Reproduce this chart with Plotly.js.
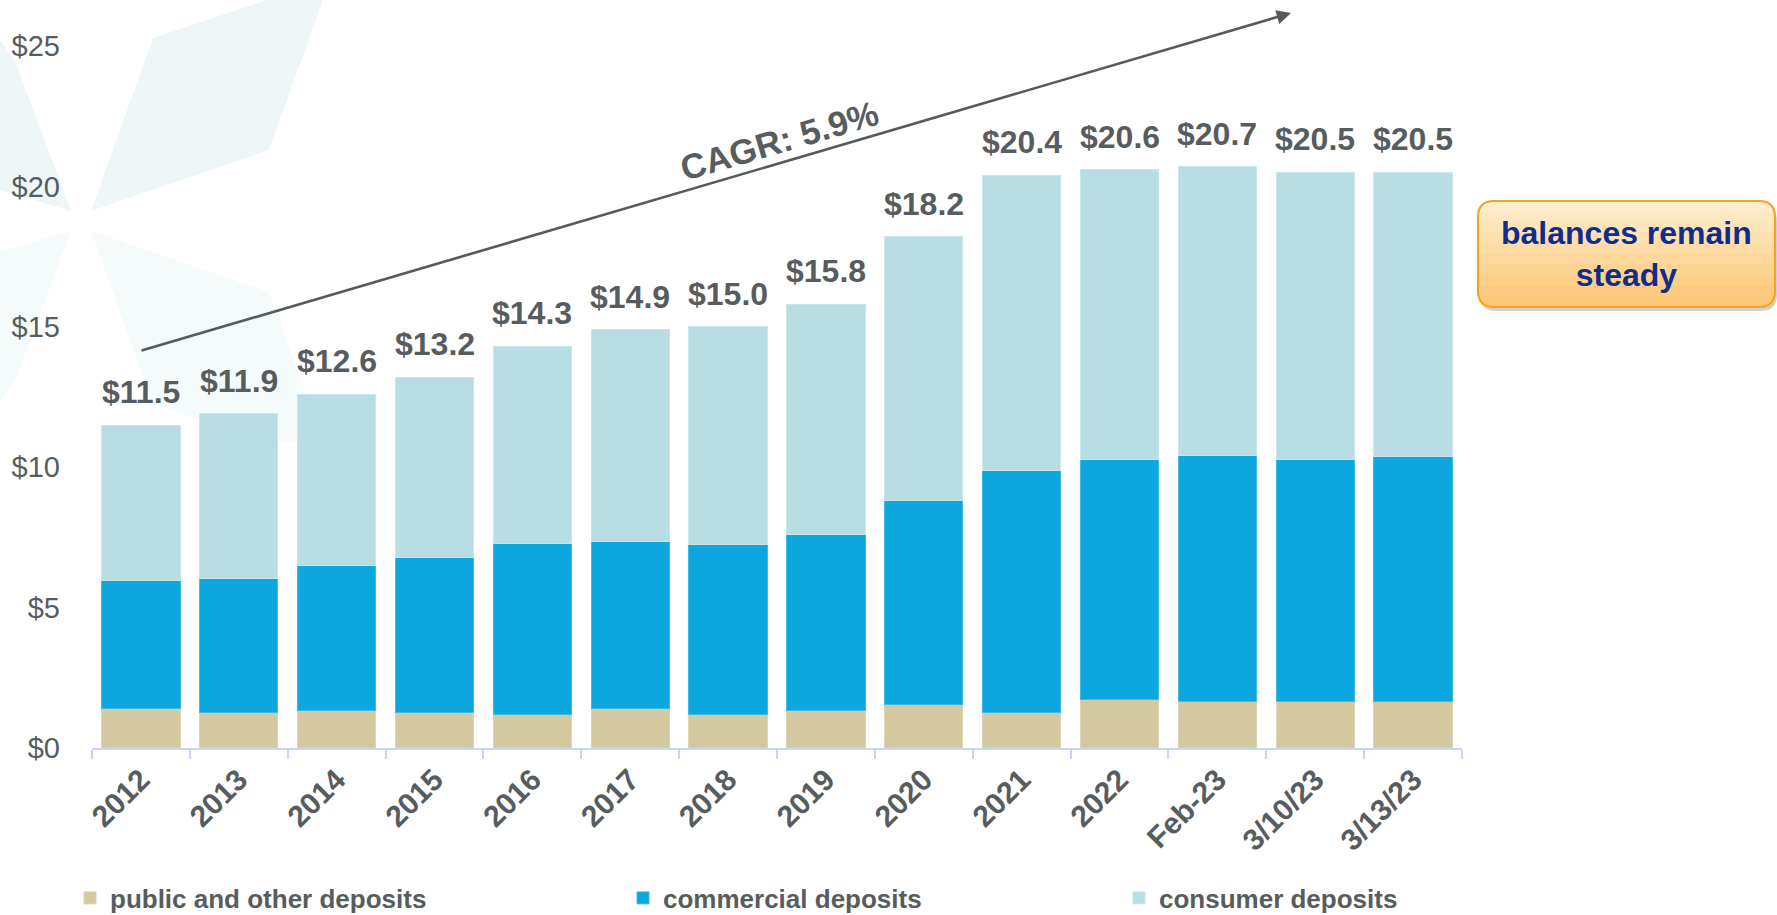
<!DOCTYPE html>
<html>
<head>
<meta charset="utf-8">
<script src="https://cdn.plot.ly/plotly-3.0.1.min.js"></script>
<style>
html,body{margin:0;padding:0;background:#fff;}
#chart{width:1777px;height:915px;}
</style>
</head>
<body>
<div id="chart"></div>
<script>
// ---- data (US$ billions) ----
const categories = ['2012','2013','2014','2015','2016','2017','2018','2019','2020','2021','2022','Feb-23','3/10/23','3/13/23'];
const publicDeposits = [1.39,1.26,1.35,1.28,1.19,1.41,1.19,1.32,1.54,1.26,1.72,1.67,1.66,1.67];
const commercialDeposits = [4.56,4.79,5.16,5.49,6.10,5.96,6.07,6.30,7.29,8.63,8.55,8.76,8.63,8.72];
const consumerDeposits = [5.55,5.85,6.09,6.43,7.01,7.53,7.74,8.18,9.37,10.51,10.33,10.27,10.21,10.11];
const totalLabels = [11.5,11.9,12.6,13.2,14.3,14.9,15.0,15.8,18.2,20.4,20.6,20.7,20.5,20.5];
const seriesNames = ['public and other deposits','commercial deposits','consumer deposits'];
const yTickVals = [0,5,10,15,20,25];
const cagrText = 'CAGR: 5.9%';
const calloutText = 'balances remain<br>steady';

// ---- layout geometry (pixels) ----
const W = 1777, H = 915;
const L = 92, R = 1462, T = 46, B = 748;
const px = v => (v - L) / (R - L);
const py = v => (B - v) / (B - T);
const FONT = 'Liberation Sans, Arial, sans-serif';
const GREY = '#575c5e';

function polyPath(pts){
  return pts.map((p,i)=>(i?'L':'M')+px(p[0]).toFixed(5)+','+py(p[1]).toFixed(5)).join(' ')+' Z';
}
function roundRect(x0,y0,x1,y1,r,topOnly){
  const P = (x,y)=>px(x).toFixed(5)+','+py(y).toFixed(5);
  let s = 'M'+P(x0+r,y0)+' L'+P(x1-r,y0)+' Q'+P(x1,y0)+' '+P(x1,y0+r);
  if(topOnly){
    s += ' L'+P(x1,y1)+' L'+P(x0,y1);
  } else {
    s += ' L'+P(x1,y1-r)+' Q'+P(x1,y1)+' '+P(x1-r,y1)+' L'+P(x0+r,y1)+' Q'+P(x0,y1)+' '+P(x0,y1-r);
  }
  s += ' L'+P(x0,y0+r)+' Q'+P(x0,y0)+' '+P(x0+r,y0)+' Z';
  return s;
}

const colors = ['#d4c9a0','#0ba7de','#b8dde2'];
const lineColors = ['#ddd4b2','#3fbbe8','#c9e6ea'];
const legendIds = ['legend','legend2','legend3'];
const seriesVals = [publicDeposits, commercialDeposits, consumerDeposits];

const traces = seriesVals.map((vals,i)=>({
  type:'bar', x:categories, y:vals, name:seriesNames[i],
  marker:{color:colors[i], line:{color:lineColors[i], width:1}},
  legend: legendIds[i], hoverinfo:'skip'
}));

// ---- shapes: background ornament, callout box ----
const shapes = [];
const orn1 = '#eef6f8', orn2 = '#f5fafb';
[
  [[[91,211],[153,38],[267,0],[323,0],[269,150]], orn1],
  [[[71,211],[15,61],[0,40],[0,190]], orn1],
  [[[91,231],[153,404],[267,442],[323,442],[269,292]], orn2],
  [[[71,231],[15,381],[0,400],[0,252]], orn2]
].forEach(([pts,c])=>shapes.push({type:'path', xref:'paper', yref:'paper', path:polyPath(pts), fillcolor:c, line:{width:0}, layer:'below'}));

// callout box
const bx0=1478, by0=201, bx1=1775, by1=307, rad=16;
shapes.push({type:'path', xref:'paper', yref:'paper', path:roundRect(bx0+2,by0+4,bx1+2,by1+4,rad,false), fillcolor:'rgba(0,0,0,0.18)', line:{width:0}});
const cTop=[255,240,214], cBot=[252,199,118];
const N=10;
shapes.push({type:'path', xref:'paper', yref:'paper', path:roundRect(bx0,by0,bx1,by1,rad,false), fillcolor:'rgb('+cBot.join(',')+')', line:{width:0}});
for(let k=1;k<N;k++){
  const t=k/N;
  const yb = by1 - (by1-by0)*t;
  const c = cBot.map((v,j)=>Math.round(v+(cTop[j]-v)*t));
  shapes.push({type:'path', xref:'paper', yref:'paper', path:roundRect(bx0,by0,bx1,yb,rad,true), fillcolor:'rgb('+c.join(',')+')', line:{width:0}});
}
shapes.push({type:'path', xref:'paper', yref:'paper', path:roundRect(bx0,by0,bx1,by1,rad,false), fillcolor:'rgba(0,0,0,0)', line:{color:'#f4a31e', width:2}});

// ---- annotations ----
// total labels: x given as the category index on the category axis
const annotations = categories.map((c,i)=>({
  x:i, y:totalLabels[i], xref:'x', yref:'y', text:'$'+totalLabels[i].toFixed(1),
  showarrow:false, xanchor:'center', yanchor:'bottom', yshift:13,
  font:{family:FONT, size:32, color:GREY, weight:'bold'}
}));
// growth arrow
annotations.push({
  xref:'paper', yref:'paper', x:px(1291), y:py(13), ax:140-1291, ay:351-13, axref:'pixel', ayref:'pixel',
  text:'', showarrow:true, arrowhead:2, arrowsize:1.1, arrowwidth:2.6, arrowcolor:'#555a5c', standoff:0, startstandoff:0
});
annotations.push({
  xref:'paper', yref:'paper', x:px(779), y:py(140), text:cagrText, textangle:-16.3, showarrow:false,
  xanchor:'center', yanchor:'middle',
  font:{family:FONT, size:35, color:GREY, weight:'bold'}
});
annotations.push({
  xref:'paper', yref:'paper', x:px((bx0+bx1)/2), y:py((by0+by1)/2), text:calloutText, showarrow:false,
  xanchor:'center', yanchor:'middle',
  font:{family:FONT, size:32, color:'#102c8c', weight:'bold'}
});

const legendBase = {
  orientation:'h', xref:'container', yref:'container', yanchor:'middle', y:1-898/H,
  bgcolor:'rgba(0,0,0,0)', font:{family:FONT, size:26, color:GREY, weight:'bold'},
  itemclick:false, itemdoubleclick:false
};

const layout = {
  width:W, height:H,
  margin:{l:L, r:W-R, t:T, b:H-B, autoexpand:false},
  paper_bgcolor:'#ffffff', plot_bgcolor:'rgba(0,0,0,0)',
  barmode:'stack', bargap:0.2,
  showlegend:true,
  legend: Object.assign({}, legendBase, {x:70/W}),
  legend2: Object.assign({}, legendBase, {x:623/W}),
  legend3: Object.assign({}, legendBase, {x:1119/W}),
  xaxis:{
    type:'category', range:[-0.5, categories.length-0.5], tickson:'boundaries', ticks:'outside', ticklen:9, tickwidth:2, tickcolor:'#c8d6f6',
    showline:true, linecolor:'#c8d6f6', linewidth:2, showgrid:false, zeroline:false,
    tickangle:-45, tickfont:{family:FONT, size:30, color:GREY, weight:'bold'}, automargin:false, fixedrange:true
  },
  yaxis:{
    range:[0,25], tickvals:yTickVals, ticktext:yTickVals.map(v=>'$'+v), showgrid:false, zeroline:false,
    showline:false, ticks:'', ticklabelstandoff:31,
    tickfont:{family:FONT, size:29, color:GREY}, automargin:false, fixedrange:true
  },
  shapes:shapes,
  annotations:annotations
};

Plotly.newPlot('chart', traces, layout, {displayModeBar:false, staticPlot:true});
</script>
</body>
</html>
